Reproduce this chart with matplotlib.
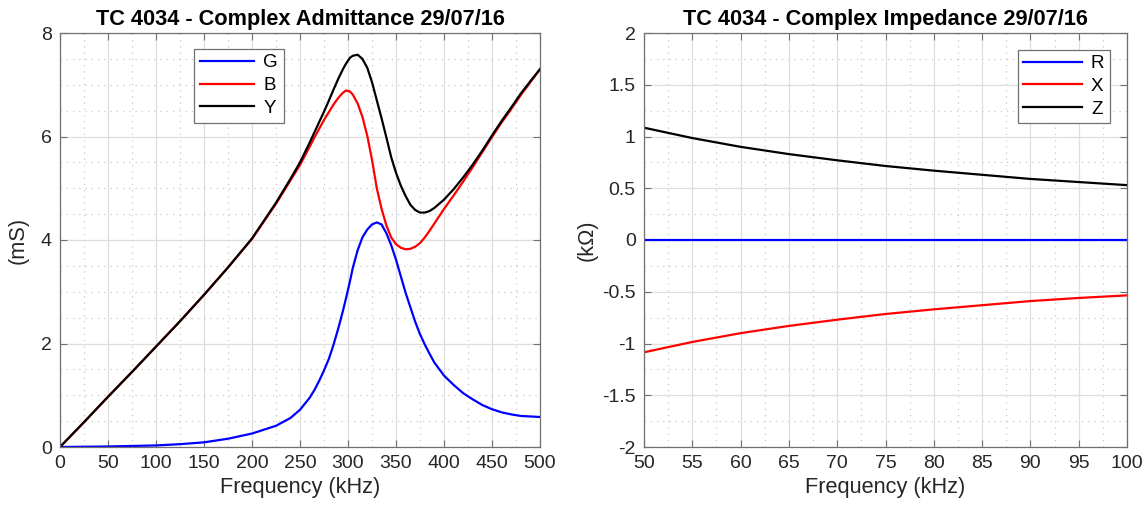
import matplotlib
matplotlib.use('Agg')

import matplotlib.pyplot as plt
from matplotlib.ticker import MultipleLocator

plt.rcParams['font.family'] = ['Liberation Sans', 'DejaVu Sans']
plt.rcParams['axes.unicode_minus'] = False

# ---------------- ADMITTANCE DATA (kHz, mS) ----------------
freq_adm = [0, 25, 50, 75, 100, 125, 150, 175, 200, 225, 240, 250, 260, 265, 270,
            275, 280, 285, 290, 295, 298, 302, 305, 310, 315, 320, 325, 330, 335,
            340, 345, 350, 355, 360, 365, 370, 375, 380, 385, 390, 400, 410, 420,
            430, 440, 450, 460, 470, 480, 490, 500]
G = [0, 0.005, 0.01, 0.02, 0.03, 0.055, 0.09, 0.16, 0.26, 0.41, 0.56, 0.72, 0.95,
     1.1, 1.28, 1.48, 1.7, 1.98, 2.3, 2.65, 2.88, 3.2, 3.46, 3.8, 4.05, 4.2, 4.3,
     4.34, 4.3, 4.13, 3.9, 3.62, 3.3, 2.98, 2.7, 2.42, 2.18, 1.98, 1.8, 1.63,
     1.38, 1.2, 1.04, 0.92, 0.81, 0.73, 0.67, 0.63, 0.6, 0.59, 0.58]
B = [0, 0.48, 0.97, 1.45, 1.94, 2.43, 2.94, 3.47, 4.02, 4.7, 5.15, 5.45, 5.8,
     5.98, 6.15, 6.32, 6.47, 6.62, 6.75, 6.85, 6.89, 6.87, 6.81, 6.64, 6.38, 6.02,
     5.55, 5.0, 4.6, 4.28, 4.05, 3.92, 3.85, 3.82, 3.83, 3.87, 3.94, 4.05, 4.18,
     4.32, 4.6, 4.86, 5.13, 5.41, 5.7, 5.99, 6.27, 6.53, 6.8, 7.05, 7.3]
Y = [0, 0.48, 0.97, 1.45, 1.94, 2.43, 2.94, 3.47, 4.03, 4.72, 5.18, 5.5, 5.88,
     6.08, 6.28, 6.48, 6.69, 6.91, 7.12, 7.31, 7.41, 7.52, 7.56, 7.58, 7.5, 7.33,
     7.05, 6.7, 6.35, 5.98, 5.6, 5.3, 5.05, 4.85, 4.68, 4.58, 4.53, 4.53, 4.56,
     4.62, 4.78, 4.98, 5.21, 5.46, 5.73, 6.02, 6.3, 6.56, 6.83, 7.07, 7.3]

# ---------------- IMPEDANCE DATA (kHz, kOhm) ----------------
freq_imp = [50, 55, 60, 65, 70, 75, 80, 85, 90, 95, 100]
R = [0, 0, 0, 0, 0, 0, 0, 0, 0, 0, 0]
X = [-1.085, -0.985, -0.9, -0.83, -0.77, -0.715, -0.67, -0.63, -0.59, -0.56, -0.535]
Z = [1.085, 0.985, 0.9, 0.83, 0.77, 0.715, 0.67, 0.63, 0.59, 0.56, 0.53]

TEXT = '#262626'
FRAME = '#707070'


def style_axes(ax, xmaj, xmin, ymaj, ymin):
    ax.xaxis.set_major_locator(MultipleLocator(xmaj))
    ax.xaxis.set_minor_locator(MultipleLocator(xmin))
    ax.yaxis.set_major_locator(MultipleLocator(ymaj))
    ax.yaxis.set_minor_locator(MultipleLocator(ymin))
    ax.grid(which='major', color='#dedede', linestyle='-', linewidth=0.9)
    ax.grid(which='minor', color='#c8c8c8', linestyle=(0, (1, 4)), linewidth=0.9)
    ax.set_axisbelow(True)
    ax.tick_params(which='major', direction='in', length=5, width=0.8,
                   top=True, right=True, labelsize=14, colors=FRAME,
                   labelcolor=TEXT, pad=6)
    ax.tick_params(which='minor', length=0)
    for s in ax.spines.values():
        s.set_color(FRAME)
        s.set_linewidth(0.9)


fig = plt.figure(figsize=(11.47, 5.13), dpi=100)

# ---------------- ADMITTANCE ----------------
ax1 = fig.add_axes([60 / 1147, 66 / 513, 480 / 1147, 414 / 513])
ax1.plot(freq_adm, G, color='#0000ff', lw=1.6, label='G')
ax1.plot(freq_adm, B, color='#ff0000', lw=1.6, label='B')
ax1.plot(freq_adm, Y, color='#000000', lw=1.6, label='Y')
ax1.set_xlim(0, 500)
ax1.set_ylim(0, 8)
style_axes(ax1, 50, 25, 2, 0.5)
ax1.set_title('TC 4034 - Complex Admittance 29/07/16', fontsize=15.7,
              fontweight='bold', color='black', pad=6)
ax1.set_xlabel('Frequency (kHz)', fontsize=15.7, color=TEXT, labelpad=3)
ax1.set_ylabel('(mS)', fontsize=15.7, color=TEXT, labelpad=9)
leg1 = ax1.legend(loc='upper left', bbox_to_anchor=(0.279, 0.962), fontsize=13.5,
                  handlelength=2.9, handletextpad=0.5, borderpad=0.3,
                  labelspacing=0.3, fancybox=False, framealpha=1,
                  edgecolor=FRAME, borderaxespad=0)
leg1.get_frame().set_linewidth(0.9)

# ---------------- IMPEDANCE ----------------
ax2 = fig.add_axes([644 / 1147, 66 / 513, 483 / 1147, 414 / 513])
ax2.plot(freq_imp, R, color='#0000ff', lw=1.6, label='R')
ax2.plot(freq_imp, X, color='#ff0000', lw=1.6, label='X')
ax2.plot(freq_imp, Z, color='#000000', lw=1.6, label='Z')
ax2.set_xlim(50, 100)
ax2.set_ylim(-2, 2)
style_axes(ax2, 5, 2.5, 0.5, 0.25)
ax2.yaxis.set_major_formatter(plt.FuncFormatter(lambda v, p: ('%g' % v)))
ax2.set_title('TC 4034 - Complex Impedance 29/07/16', fontsize=15.7,
              fontweight='bold', color='black', pad=6)
ax2.set_xlabel('Frequency (kHz)', fontsize=15.7, color=TEXT, labelpad=3)
ax2.set_ylabel('(k\u03a9)', fontsize=15.7, color=TEXT, labelpad=3)
leg2 = ax2.legend(loc='upper right', bbox_to_anchor=(0.965, 0.96), fontsize=13.5,
                  handlelength=3.1, handletextpad=0.5, borderpad=0.3,
                  labelspacing=0.3, fancybox=False, framealpha=1,
                  edgecolor=FRAME, borderaxespad=0)
leg2.get_frame().set_linewidth(0.9)

fig.savefig('out.png', dpi=100, facecolor='white')
